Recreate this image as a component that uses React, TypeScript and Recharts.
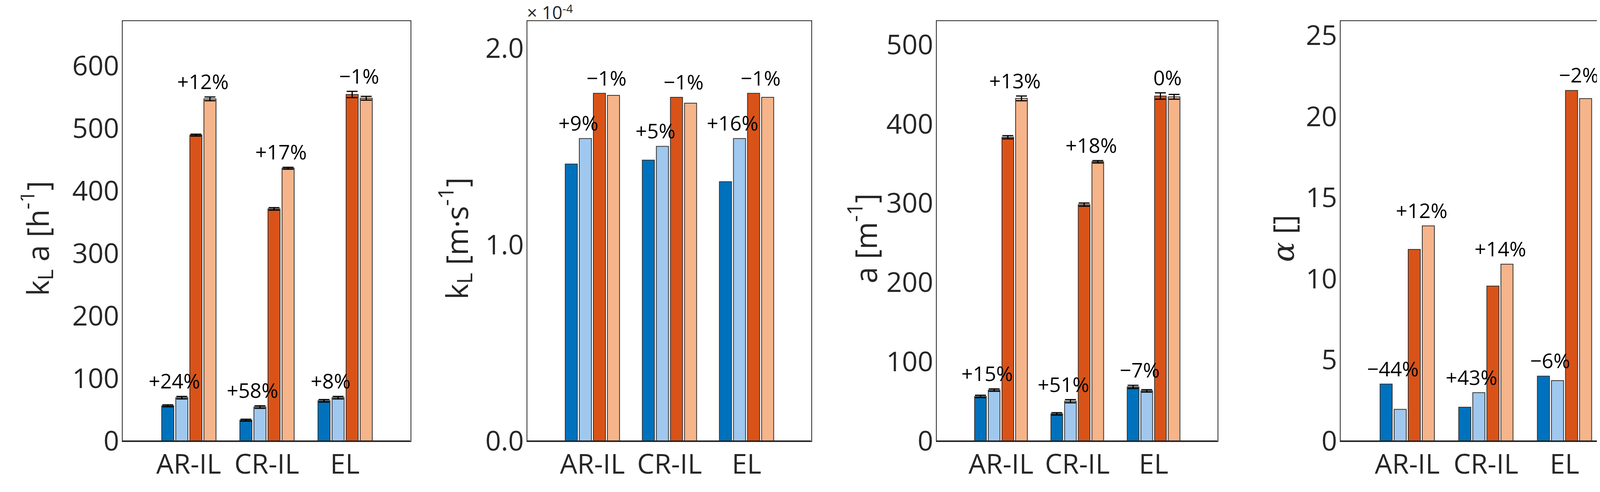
import React from "react"
import { Bar, BarChart, XAxis, YAxis, ErrorBar, ReferenceDot } from "recharts"

const categories = ["AR-IL", "CR-IL", "EL"]

// kLa [h^-1]
const kla1 = [56, 33, 64]
const kla2 = [69, 54, 69]
const kla3 = [489, 371, 554]
const kla4 = [547, 436, 548]
const klaErr = [[1.5, 1.5, 2], [2, 2, 2], [1.5, 2, 5], [3, 1.5, 3]]
const klaPctBlue = ["+24%", "+58%", "+8%"]
const klaPctOrange = ["+12%", "+17%", "\u22121%"]

// kL [m s^-1] x 1e-4
const kl1 = [1.41, 1.43, 1.32]
const kl2 = [1.54, 1.5, 1.54]
const kl3 = [1.77, 1.75, 1.77]
const kl4 = [1.76, 1.72, 1.75]
const klPctBlue = ["+9%", "+5%", "+16%"]
const klPctOrange = ["\u22121%", "\u22121%", "\u22121%"]

// a [m^-1]
const a1 = [56, 34, 68]
const a2 = [64, 50, 63]
const a3 = [383, 298, 435]
const a4 = [432, 352, 434]
const aErr = [[1.5, 1.5, 2], [1.5, 2, 1.5], [2, 2, 4], [3, 1.5, 3]]
const aPctBlue = ["+15%", "+51%", "\u22127%"]
const aPctOrange = ["+13%", "+18%", "0%"]

// alpha []
const al1 = [3.5, 2.07, 3.99]
const al2 = [1.94, 2.97, 3.71]
const al3 = [11.8, 9.54, 21.6]
const al4 = [13.25, 10.89, 21.1]
const alPctBlue = ["\u221244%", "+43%", "\u22126%"]
const alPctOrange = ["+12%", "+14%", "\u22122%"]

const colors = ["#0072BD", "#A0C8EE", "#D95319", "#F6B48A"]
const ink = "#262626"
const font = "'Open Sans', 'Noto Sans', sans-serif"
const YW = 260
const TOP = 53
const BOTTOM = 1128

function buildRows(s: number[][], err?: number[][]) {
    return categories.map((c, i) => ({
        name: c,
        s0: s[0][i], s1: s[1][i], s2: s[2][i], s3: s[3][i],
        e0: err ? err[0][i] : 0, e1: err ? err[1][i] : 0,
        e2: err ? err[2][i] : 0, e3: err ? err[3][i] : 0,
    }))
}

function Panel(props: any) {
    const { left, plotW, rows, domain, ticks, fmt, blue, orange, labelX, labelBody, withErr } = props
    const w = plotW + YW + 2
    const padL = Math.round(plotW * 0.095)
    const padR = Math.round(plotW * 0.091)
    const step = 36.5 * plotW / 737
    const pct = (dx: number, text: string) => (p: any) => (
        <text x={p.cx + dx} y={p.cy - 20} textAnchor="middle" fontSize={52} fill="#000" fontFamily={font}>{text}</text>
    )
    const lx = labelX - (left - YW)
    const label = {
        content: () => (
            <text x={lx} y={610} transform={`rotate(-90 ${lx} 610)`} textAnchor="middle" dominantBaseline="central"
                fontSize={76} fill={ink} fontFamily={font}>{labelBody}</text>
        ),
    }
    return (
        <>
            <div style={{ position: "absolute", left: left - YW, top: 0 }}>
                <BarChart width={w} height={1259} data={rows} margin={{ top: TOP, right: 2, bottom: 0, left: 0 }}
                    barSize={Math.round(31 * plotW / 737)} barGap={5}>
                    <XAxis dataKey="name" height={1259 - BOTTOM} padding={{ left: padL, right: padR }}
                        axisLine={{ stroke: ink, strokeWidth: 2 }} tickLine={false}
                        tick={{ fill: ink, fontSize: 70, fontFamily: font, dy: 26 }} interval={0} />
                    <YAxis width={YW} domain={domain} ticks={ticks} tickFormatter={fmt} allowDataOverflow
                        axisLine={{ stroke: ink, strokeWidth: 2 }} tickLine={false}
                        tick={{ fill: ink, fontSize: 70, fontFamily: font }} label={label} />
                    {[0, 1, 2, 3].map((k) => (
                        <Bar key={k} dataKey={"s" + k} fill={colors[k]} stroke="#333" strokeWidth={2} isAnimationActive={false}>
                            {withErr && <ErrorBar dataKey={"e" + k} width={14} stroke="#000" strokeWidth={3} direction="y" />}
                        </Bar>
                    ))}
                    {rows.map((r: any, i: number) => (
                        <ReferenceDot key={"b" + i} x={r.name} y={Math.max(r.s0 + r.e0, r.s1 + r.e1)} r={0}
                            ifOverflow="visible" shape={pct(-step, blue[i])} />
                    ))}
                    {rows.map((r: any, i: number) => (
                        <ReferenceDot key={"o" + i} x={r.name} y={Math.max(r.s2 + r.e2, r.s3 + r.e3)} r={0}
                            ifOverflow="visible" shape={pct(step, orange[i])} />
                    ))}
                </BarChart>
            </div>
            <div style={{ position: "absolute", left: left - 1, top: TOP - 1, width: plotW, height: BOTTOM - TOP,
                border: "2px solid " + ink, pointerEvents: "none" }} />
        </>
    )
}

const sub = (t: string) => [<tspan key="a" dy={20} fontSize={54}>{t}</tspan>, <tspan key="b" dy={-20}> </tspan>]

export default function App() {
    return (
        <div style={{ position: "relative", width: 4190, height: 1259, margin: -8, background: "#fff", overflow: "hidden" }}>
            <Panel left={313} plotW={737} rows={buildRows([kla1, kla2, kla3, kla4], klaErr)} domain={[0, 672]}
                ticks={[0, 100, 200, 300, 400, 500, 600]} blue={klaPctBlue} orange={klaPctOrange} withErr labelX={95}
                labelBody={<>k{sub("L")}a [h<tspan dy={-28} fontSize={54}>-1</tspan><tspan dy={28}>]</tspan></>} />
            <Panel left={1349} plotW={727} rows={buildRows([kl1, kl2, kl3, kl4])} domain={[0, 2.14]}
                ticks={[0, 1, 2]} fmt={(v: number) => v.toFixed(1)} blue={klPctBlue} orange={klPctOrange} labelX={1168}
                labelBody={<>k{sub("L")}[m·s<tspan dy={-28} fontSize={54}>-1</tspan><tspan dy={28}>]</tspan></>} />
            <Panel left={2397} plotW={719} rows={buildRows([a1, a2, a3, a4], aErr)} domain={[0, 530]}
                ticks={[0, 100, 200, 300, 400, 500]} blue={aPctBlue} orange={aPctOrange} withErr labelX={2215}
                labelBody={<>a [m<tspan dy={-28} fontSize={54}>-1</tspan><tspan dy={28}>]</tspan></>} />
            <Panel left={3431} plotW={743} rows={buildRows([al1, al2, al3, al4])} domain={[0, 25.9]}
                ticks={[0, 5, 10, 15, 20, 25]} blue={alPctBlue} orange={alPctOrange} labelX={3285}
                labelBody={<><tspan fontFamily="'DejaVu Serif', serif" fontStyle="italic">α</tspan> []</>} />
            <div style={{ position: "absolute", left: 1349, top: 0, fontSize: 46, color: ink, fontFamily: font }}>
                × 10<sup style={{ fontSize: 30 }}>-4</sup>
            </div>
        </div>
    )
}
